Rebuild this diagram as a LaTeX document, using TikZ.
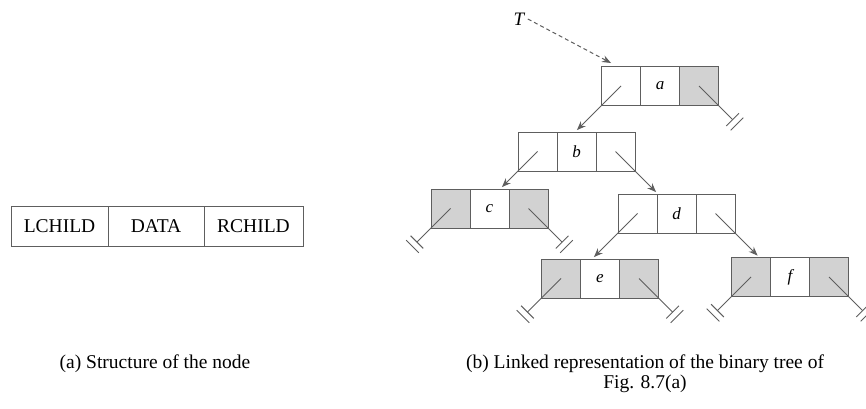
\documentclass[tikz,border=0pt]{standalone}
\usepackage{fontspec}
\setmainfont{Liberation Serif}
\usetikzlibrary{calc,arrows.meta}
\definecolor{linegray}{HTML}{5E5E5E}
\definecolor{nilgray}{HTML}{D2D2D2}

% three-cell tree node: name, x of middle cell, y, data letter, left style, right style
\newcommand\treenode[6]{%
  \node[#5] (#1L) at (#2-39,#3) {};
  \node[cell] (#1M) at (#2,#3) {#4};
  \node[#6] (#1R) at (#2+39,#3) {};
}
% null link: from the cell centre out through the given corner, ending in a double bar
\newcommand\nulllink[2]{%
  \draw[link] (#1.center) -- ($(#1.#2)!-0.68!(#1.center)$) coordinate (gndA);
  \coordinate (gndB) at ($(#1.#2)!-0.9!(#1.center)$);
  \draw[link] ($(gndA)!9pt!90:(#1.#2)$) -- ($(gndA)!9pt!-90:(#1.#2)$);
  \draw[link] ($(gndB)!9pt!90:(#1.#2)$) -- ($(gndB)!9pt!-90:(#1.#2)$);
}
% child link: from the cell centre out through the corner down to the top of the child
\newcommand\childlink[3]{%
  \draw[arr] (#1.center) -- (intersection of #1.center--#1.#2 and #3.north west--#3.north east);
}

\begin{document}
\begin{tikzpicture}[x=1pt,y=-1pt,
  cell/.style={draw=linegray, line width=1pt, minimum width=39pt, minimum height=39pt,
    inner sep=0pt, font=\fontsize{17}{17}\selectfont\itshape},
  nil/.style={cell, fill=nilgray},
  box/.style={draw=linegray, line width=1pt, minimum height=40pt, inner sep=0pt,
    font=\fontsize{19.5}{19.5}\selectfont},
  link/.style={draw=linegray, line width=1pt},
  tip/.style={-{Stealth[length=9pt,width=7pt]}},
  arr/.style={link, tip, shorten >=2pt},
  caption/.style={font=\fontsize{19.5}{22}\selectfont, anchor=base}]

\useasboundingbox (0,0) rectangle (866,408);

% (a) layout of one node
\node[box, minimum width=97pt] (lchild) at (59.5,226) {LCHILD};
\node[box, minimum width=96pt] (data)   at (156,226)  {DATA};
\node[box, minimum width=99pt] (rchild) at (253.5,226) {RCHILD};

% (b) linked tree
\treenode{a}{660}{86}{a}{cell}{nil}
\treenode{b}{576.5}{151.5}{b}{cell}{cell}
\treenode{c}{489.5}{208.5}{c}{nil}{nil}
\treenode{d}{676.5}{213.5}{d}{cell}{cell}
\treenode{e}{600}{278.5}{e}{nil}{nil}
\treenode{f}{790}{277}{f}{nil}{nil}

\node[font=\fontsize{19}{19}\selectfont\itshape] (T) at (519,19) {T};
\draw[link, dash pattern=on 4pt off 3pt, tip]
  (T.east) -- ($(aL.north west)+(10,-3)$);

\childlink{aL}{south west}{bM}
\childlink{bL}{south west}{cM}
\childlink{bR}{south east}{dL}
\childlink{dL}{south west}{eM}
\childlink{dR}{south east}{fL}

\nulllink{aR}{south east}
\nulllink{cL}{south west}
\nulllink{cR}{south east}
\nulllink{eL}{south west}
\nulllink{eR}{south east}
\nulllink{fL}{south west}
\nulllink{fR}{south east}

% captions
\node[caption] (capa)  at (155,368) {(a) Structure of the node};
\node[caption] (capb1) at (645,368) {(b) Linked representation of the binary tree of};
\node[caption] (capb2) at (645,388) {Fig. 8.7(a)};
\end{tikzpicture}
\end{document}
